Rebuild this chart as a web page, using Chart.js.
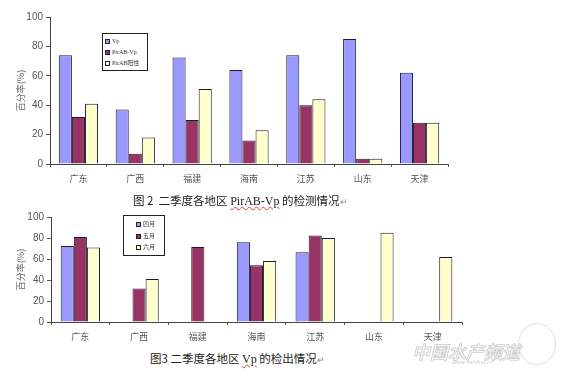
<!DOCTYPE html>
<html>
<head>
<meta charset="utf-8">
<script src="https://cdn.jsdelivr.net/npm/chart.js@4.4.1/dist/chart.umd.min.js"></script>
<style>
  body { margin: 0; background: #fff; width: 564px; height: 374px; overflow: hidden; position: relative; font-family: "Noto Sans CJK SC", sans-serif; }
  canvas { position: absolute; left: 0; }
  #chart1 { top: 0; }
  #chart2 { top: 200px; }
  .legend { position: absolute; border: 1px solid #222; background: #fff; font-size: 6px; color: #333; }
  .legend div { position: absolute; white-space: nowrap; line-height: 7px; font-family: "Liberation Serif", "Noto Sans CJK SC", serif; }
  .legend i { display: inline-block; width: 3px; height: 3px; border: 1px solid #222; margin-right: 2px; vertical-align: -1px; }
  .cap { position: absolute; font-size: 11.5px; line-height: 16px; color: #222; white-space: nowrap; }
  .cap .en { font-family: "Liberation Serif", serif; font-size: 12px; text-decoration: underline wavy #e04040; text-decoration-thickness: 1px; }
  .cap .pm { color: #888; font-size: 9px; }
  .mark { position: absolute; left: 412px; top: 338px; font-size: 18px; font-weight: bold; font-style: italic; color: #f6f6f6; -webkit-text-stroke: 0.8px #cfcfcf; white-space: nowrap; }
  .url { position: absolute; left: 452px; top: 359px; font-size: 6px; color: #ccc; font-style: italic; font-family: "Liberation Sans", sans-serif; }
  .globe { position: absolute; left: 518px; top: 323px; width: 36px; height: 40px; border: 1px solid #e0e0e0; border-radius: 50%; }
</style>
</head>
<body>
<canvas id="chart1" width="564" height="190"></canvas>
<canvas id="chart2" width="564" height="150"></canvas>
<div class="legend" id="legend1" style="left:102px;top:33px;width:44px;height:36px"></div>
<div class="legend" id="legend2" style="left:123px;top:215px;width:40px;height:39px"></div>
<div class="cap" style="left:133px;top:192px">图 2&nbsp; 二季度各地区 <span class="en">PirAB-Vp</span> 的检测情况<span class="pm">↵</span></div>
<div class="cap" style="left:150px;top:350px">图3 二季度各地区 <span class="en">Vp</span> 的检出情况<span class="pm">↵</span></div>
<div class="globe"></div>
<div class="mark">中国水产频道</div>
<div class="url">www.fishfirst.cn</div>
<script>
const regions = ["广东", "广西", "福建", "海南", "江苏", "山东", "天津"];
const yTicks = [0, 20, 40, 60, 80, 100];

// 图2
const seriesNames1 = ["Vp", "PirAB-Vp", "PirAB阳性"];
const vp = [74, 37, 72.5, 64, 74, 85, 62];
const pirabVp = [32, 7, 30, 16, 40, 3.5, 28];
const pirabPos = [41, 18, 51, 23, 44, 3.5, 28];

// 图3
const months = ["四月", "五月", "六月"];
const april = [72.5, null, null, 76, 66.5, null, null];
const may = [81, 32, 71.5, 54, 82.5, null, null];
const june = [71, 41, null, 58, 80, 85, 62];

const colors = ["#9999ff", "#993366", "#ffffcc"];
const yTitle = "百分率(%)";

function makeChart(id, names, series, opts) {
  const datasets = series.map((d, i) => ({
    label: names[i],
    data: d,
    backgroundColor: colors[i],
    borderColor: "#1a1a33",
    borderWidth: 1,
    borderSkipped: "bottom",
    categoryPercentage: opts.catPct,
    barPercentage: 1.0,
  }));

  return new Chart(document.getElementById(id), {
    type: "bar",
    data: { labels: regions, datasets: datasets },
    options: {
      responsive: false,
      animation: false,
      devicePixelRatio: 1,
      layout: { padding: { top: opts.top, right: opts.right, left: 0, bottom: 0 } },
      plugins: { legend: { display: false }, tooltip: { enabled: false } },
      scales: {
        x: {
          grid: { display: true, drawOnChartArea: false, drawTicks: true, tickLength: 3, color: "#555", offset: true },
          border: { display: true, color: "#444", width: 1 },
          ticks: { color: "#555", padding: 6, font: { family: "Noto Sans CJK SC", size: 9 }, maxRotation: 0 },
          afterFit: (axis) => { axis.height = opts.xh; },
        },
        y: {
          min: 0,
          max: 100,
          afterBuildTicks: (axis) => { axis.ticks = yTicks.map((v) => ({ value: v })); },
          grid: { display: true, drawOnChartArea: false, drawTicks: true, tickLength: 4, color: "#555" },
          border: { display: true, color: "#444", width: 1 },
          ticks: { color: "#555", padding: 3, font: { family: "Liberation Sans", size: 10 } },
          title: { display: true, text: yTitle, color: "#666", font: { family: "Noto Sans CJK SC", size: 9 }, padding: { top: 15, bottom: 0 } },
          afterFit: (axis) => { axis.width = opts.yw; },
        },
      },
    },
  });
}

makeChart("chart1", seriesNames1, [vp, pirabVp, pirabPos], { catPct: 0.69, top: 17, right: 116, xh: 26, yw: 50 });
makeChart("chart2", months, [april, may, june], { catPct: 0.67, top: 17, right: 102, xh: 28, yw: 51 });

// legends drawn as html boxes from the series names
function buildLegend(id, names, left, rowTop, rowGap) {
  const box = document.getElementById(id);
  names.forEach((n, i) => {
    const row = document.createElement("div");
    row.style.left = left + "px";
    row.style.top = rowTop + i * rowGap + "px";
    row.innerHTML = '<i style="background:' + colors[i] + '"></i>' + n;
    box.appendChild(row);
  });
}
buildLegend("legend1", seriesNames1, 2, 4, 11);
buildLegend("legend2", months, 12, 5, 11.5);
</script>
</body>
</html>
